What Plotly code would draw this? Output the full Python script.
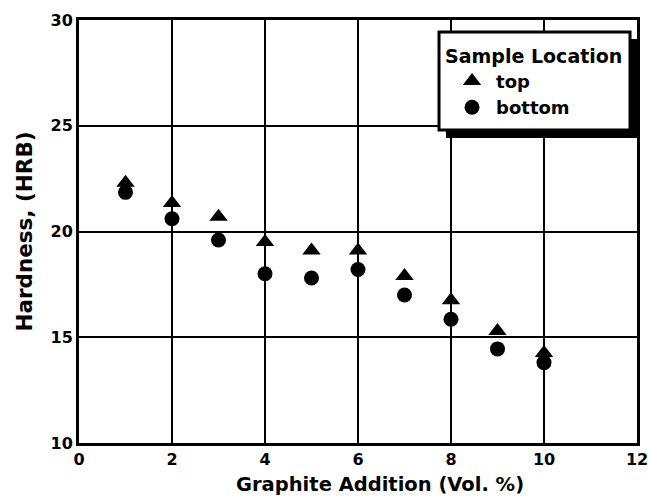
import plotly.graph_objects as go

x_vals = [1, 2, 3, 4, 5, 6, 7, 8, 9, 10]
top_hardness = [22.3, 21.35, 20.7, 19.5, 19.1, 19.1, 17.9, 16.75, 15.3, 14.25]
bottom_hardness = [21.85, 20.6, 19.6, 18.0, 17.8, 18.2, 17.0, 15.85, 14.45, 13.8]
x_ticks = [0, 2, 4, 6, 8, 10, 12]
y_ticks = [10, 15, 20, 25, 30]

FONT = "DejaVu Sans"

fig = go.Figure()
fig.add_trace(go.Scatter(x=x_vals, y=top_hardness, mode="markers", name="<b>top</b>",
                         marker=dict(symbol="triangle-up", size=16, color="black")))
fig.add_trace(go.Scatter(x=x_vals, y=bottom_hardness, mode="markers", name="<b>bottom</b>",
                         marker=dict(symbol="circle", size=15, color="black")))

# legend shadow and box
fig.add_shape(type="rect", xref="paper", yref="paper",
              x0=0.6577, x1=1.0, y0=0.7210, y1=0.9551,
              fillcolor="black", line=dict(width=0), layer="above")
fig.add_shape(type="rect", xref="paper", yref="paper",
              x0=0.6452, x1=0.9875, y0=0.7400, y1=0.9716,
              fillcolor="white", line=dict(color="black", width=3), layer="above")

# x-axis title (slightly right of centre, as in the original)
fig.add_annotation(text="<b>Graphite Addition (Vol. %)</b>", xref="paper", yref="paper",
                   x=0.54, y=-0.097, xanchor="center", yanchor="middle",
                   showarrow=False, font=dict(size=19.5, family=FONT, color="black"))

fig.update_layout(
    width=648, height=502,
    margin=dict(l=79, r=11, t=20, b=59, autoexpand=False),
    paper_bgcolor="white", plot_bgcolor="white",
    font=dict(family=FONT, size=16, color="black"),
    showlegend=True,
    legend=dict(
        title=dict(text="<b>Sample Location</b>", font=dict(size=19)),
        x=0.6524, y=0.9574, xanchor="left", yanchor="top",
        bgcolor="rgba(0,0,0,0)", borderwidth=0,
        font=dict(size=18),
        tracegroupgap=0, indentation=5, itemwidth=38,
    ),
    xaxis=dict(
        range=[0, 12], tickvals=x_ticks, ticktext=[f"<b>{v}</b>" for v in x_ticks],
        showgrid=True, gridcolor="black", gridwidth=1.5,
        showline=True, linecolor="black", linewidth=3, mirror=True,
        zeroline=False, ticks="", automargin=False, ticklabeloverflow="allow",
        tickfont=dict(size=16, family=FONT),
    ),
    yaxis=dict(
        range=[10, 30], tickvals=y_ticks, ticktext=[f"<b>{v}</b>" for v in y_ticks],
        showgrid=True, gridcolor="black", gridwidth=1.5,
        showline=True, linecolor="black", linewidth=3, mirror=True,
        zeroline=False, ticks="", automargin=False, ticklabeloverflow="allow",
        tickfont=dict(size=16, family=FONT),
        title=dict(text="<b>Hardness, (HRB)</b>", font=dict(size=21.5), standoff=13),
    ),
)

fig.write_html("out.html")
